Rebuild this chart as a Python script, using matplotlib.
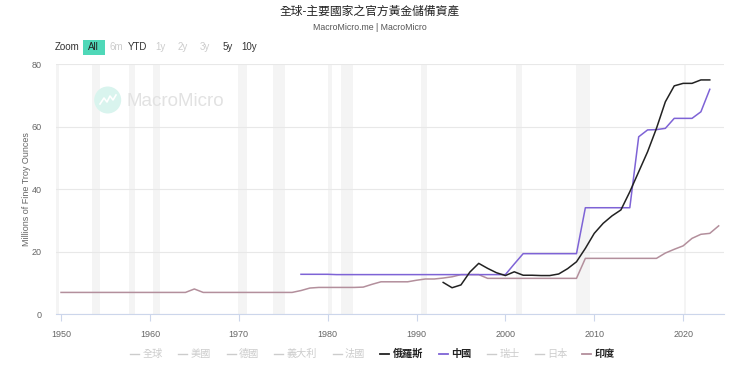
import numpy as np
import matplotlib.pyplot as plt
from matplotlib.lines import Line2D
from matplotlib.patches import Ellipse, FancyBboxPatch

plt.rcParams['font.family'] = ['Liberation Sans', 'Noto Sans CJK TC', 'DejaVu Sans']

# 俄羅斯
russia_years = list(range(1993, 2024))
russia_vals = [10.2, 8.5, 9.4, 13.5, 16.3, 14.7, 13.3, 12.4, 13.6, 12.5,
               12.5, 12.4, 12.4, 12.9, 14.6, 16.8, 21.1, 25.9, 29.1, 31.5,
               33.4, 39.2, 45.6, 52.0, 59.5, 68.0, 73.1, 73.9, 73.9, 75.0, 75.0]

# 中國
china_years = list(range(1977, 2024))
china_vals = [12.8, 12.8, 12.8, 12.8] + [12.7] * 20 + [16.1] + [19.4] * 7 + \
             [34.1] * 6 + [56.8, 59.0, 59.1, 59.5, 62.7, 62.7, 62.7, 64.8, 72.0]

# 印度
india_years = list(range(1950, 2025))
india_vals = [7.0] * 15 + [8.1] + [7.0] * 11 + [7.6, 8.4] + [8.6] * 5 + \
             [8.7, 9.6, 10.4, 10.4, 10.4, 10.4, 10.9, 11.3, 11.3, 11.6, 12.0,
              12.7, 12.7, 12.7] + [11.5] * 11 + [17.9] * 9 + \
             [19.6, 20.8, 21.9, 24.3, 25.6, 25.9, 28.3]

# 美國景氣衰退期 (灰色區塊)
recessions = [(1948.9, 1949.8), (1953.5, 1954.4), (1957.6, 1958.3),
              (1960.3, 1961.1), (1969.9, 1970.9), (1973.9, 1975.2),
              (1980.0, 1980.5), (1981.5, 1982.9), (1990.5, 1991.2),
              (2001.2, 2001.9), (2007.9, 2009.5), (2020.1, 2020.3)]

legend_names = ['全球', '美國', '德國', '義大利', '法國', '俄羅斯', '中國', '瑞士', '日本', '印度']
legend_active = [False, False, False, False, False, True, True, False, False, True]

C_RUSSIA = '#222222'
C_CHINA = '#7e63d6'
C_INDIA = '#b38f9c'

W, H = 740, 365
fig = plt.figure(figsize=(W / 100, H / 100), dpi=100)


def fx(px):
    return px / W


def fy(py):
    return 1 - py / H


ax = fig.add_axes([fx(55.7), fy(314.3), (724 - 55.7) / W, (314.3 - 64.3) / H])
ax.set_xlim(1949.4, 2024.6)
ax.set_ylim(0, 80)

for a, b in recessions:
    ax.axvspan(a, b, color='#f4f4f4', lw=0, zorder=0)

ax.plot(india_years, india_vals, color=C_INDIA, lw=1.1, zorder=3)
ax.plot(china_years, china_vals, color=C_CHINA, lw=1.1, zorder=4)
ax.plot(russia_years, russia_vals, color=C_RUSSIA, lw=1.1, zorder=5)

ax.set_yticks([0, 20, 40, 60, 80])
ax.set_xticks(np.arange(1950, 2021, 10))
ax.yaxis.grid(True, color='#e8e8e8', lw=0.8, zorder=1)
ax.set_axisbelow(True)
for s in ['left', 'top', 'right']:
    ax.spines[s].set_visible(False)
ax.spines['bottom'].set_color('#ccd6eb')
ax.spines['bottom'].set_linewidth(0.8)
ax.tick_params(axis='x', colors='#ccd6eb', length=5, width=0.8, labelcolor='#666666',
               labelsize=6.5, pad=6)
ax.tick_params(axis='y', length=0, labelcolor='#666666', labelsize=6.5, pad=10)

fig.text(fx(27), fy(189), 'Millions of Fine Troy Ounces', rotation=90,
         ha='center', va='center', fontsize=6.5, color='#666666')

# 標題
fig.text(0.5, fy(12), '全球-主要國家之官方黃金儲備資產', ha='center', va='center',
         fontsize=8.5, color='#222222')
fig.text(0.5, fy(27), 'MacroMicro.me | MacroMicro', ha='center', va='center',
         fontsize=6.3, color='#555555')

# 縮放按鈕
fig.add_artist(FancyBboxPatch((fx(82.5), fy(55)), fx(104.5) - fx(82.5), fy(40) - fy(55),
                              boxstyle='square,pad=0', transform=fig.transFigure,
                              facecolor='#4fd8b8', edgecolor='none'))
buttons = [('Zoom', 67, '#333333'), ('All', 93.5, '#222222'), ('6m', 116.5, '#cccccc'),
           ('YTD', 138, '#333333'), ('1y', 160, '#cccccc'), ('2y', 182.5, '#cccccc'),
           ('3y', 205, '#cccccc'), ('5y', 227.5, '#333333'), ('10y', 249, '#333333')]
for label, px, col in buttons:
    fig.text(fx(px), fy(47.5), label, ha='center', va='center', fontsize=7, color=col)

# 浮水印
fig.add_artist(Ellipse((fx(107.7), fy(100)), 27 / W, 27 / H, transform=fig.transFigure,
                       facecolor='#d9f4ee', edgecolor='none', zorder=0.5))
fig.add_artist(Line2D([fx(100), fx(104), fx(107), fx(110), fx(113), fx(116)],
                      [fy(104), fy(98), fy(102), fy(96), fy(100), fy(95)],
                      transform=fig.transFigure, color='white', lw=1.2, zorder=0.6))
fig.text(fx(127), fy(101), 'MacroMicro', ha='left', va='center', fontsize=13.5,
         color='#e2e2e2', zorder=0.5)

# 圖例
legend_x = [130, 178, 226.6, 274, 332.5, 380, 439, 487, 534.5, 582]
legend_colors = {'俄羅斯': C_RUSSIA, '中國': C_CHINA, '印度': C_INDIA}
for name, px, on in zip(legend_names, legend_x, legend_active):
    lc = legend_colors[name] if on else '#cccccc'
    tc = '#222222' if on else '#cccccc'
    fig.add_artist(Line2D([fx(px), fx(px + 9)], [fy(354), fy(354)],
                          transform=fig.transFigure, color=lc, lw=1.3 if on else 1.0))
    fig.text(fx(px + 12.5), fy(354), name, ha='left', va='center', fontsize=7.3,
             color=tc, fontweight='bold' if on else 'normal')

fig.savefig('out.png', dpi=100)
